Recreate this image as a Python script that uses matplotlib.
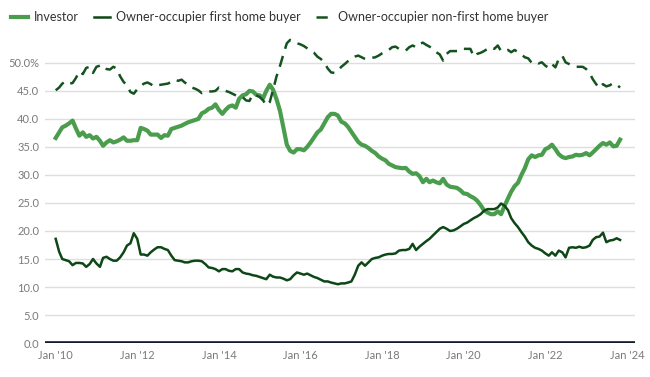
"""Share of new housing loans by buyer type, Jan 2010 - Nov 2023."""

import matplotlib
matplotlib.use("Agg")
import matplotlib.pyplot as plt
import matplotlib.dates as mdates
import pandas as pd

# monthly shares (%), Jan 2010 onwards
investor = [
    36.6, 37.6, 38.5, 38.8, 39.2, 39.7, 38.3, 37.0, 37.6, 36.8, 37.1, 36.5,
    36.8, 36.1, 35.2, 35.8, 36.2, 35.8, 36.0, 36.3, 36.7, 36.1, 36.1, 36.2,
    36.2, 38.4, 38.2, 37.9, 37.2, 37.2, 37.2, 36.6, 37.1, 37.0, 38.2, 38.4,
    38.6, 38.8, 39.1, 39.4, 39.6, 39.8, 40.0, 41.0, 41.3, 41.8, 42.0, 42.6,
    41.6, 40.9, 41.6, 42.2, 42.4, 42.0, 43.6, 44.2, 44.4, 45.0, 44.9, 44.3,
    44.2, 43.7, 45.0, 46.1, 45.2, 43.5, 41.5, 38.5, 35.4, 34.3, 34.0, 34.6,
    34.6, 34.4, 35.0, 35.8, 36.7, 37.6, 38.1, 39.2, 40.3, 40.9, 40.9, 40.6,
    39.5, 39.2, 38.6, 37.7, 36.8, 35.9, 35.4, 35.2, 34.8, 34.3, 33.9, 33.3,
    32.9, 32.6, 32.0, 31.7, 31.4, 31.3, 31.2, 31.25, 30.6, 30.2, 30.3, 29.8,
    28.7, 29.3, 28.7, 29.0, 28.7, 28.5, 29.3, 28.3, 27.9, 27.8, 27.7, 27.3,
    26.7, 26.6, 26.2, 25.9, 25.4, 24.6, 23.7, 23.3, 23.0, 23.0, 23.5, 23.0,
    24.5, 25.8, 27.0, 28.0, 28.6, 30.0, 31.2, 32.8, 33.5, 33.2, 33.5, 33.6,
    34.6, 34.9, 35.4, 34.6, 33.7, 33.2, 33.0, 33.2, 33.3, 33.6, 33.5, 33.6,
    33.9, 33.5, 34.0, 34.6, 35.2, 35.7, 35.4, 35.8, 35.1, 35.2, 36.3,
]

first_home = [
    18.6, 16.3, 15.0, 14.8, 14.6, 13.9, 14.3, 14.3, 14.2, 13.6, 14.1, 15.0,
    14.2, 13.6, 15.2, 15.4, 15.0, 14.7, 14.7, 15.3, 16.2, 17.4, 17.8, 19.6,
    18.6, 15.8, 15.8, 15.6, 16.2, 16.7, 17.1, 17.1, 16.8, 16.6, 15.6, 14.8,
    14.7, 14.6, 14.4, 14.4, 14.6, 14.7, 14.7, 14.6, 14.1, 13.5, 13.4, 13.2,
    12.8, 13.2, 13.2, 12.9, 12.8, 13.2, 13.2, 12.6, 12.4, 12.3, 12.1, 12.0,
    11.8, 11.6, 11.4, 12.2, 11.85, 11.7, 11.7, 11.5, 11.2, 11.4, 12.1, 12.6,
    12.4, 12.2, 12.4, 12.1, 11.8, 11.6, 11.3, 11.0, 11.0, 10.8, 10.65, 10.5,
    10.65, 10.65, 10.8, 11.0, 12.2, 13.8, 14.4, 13.8, 14.4, 15.0, 15.2, 15.3,
    15.6, 15.8, 15.9, 15.9, 16.0, 16.5, 16.6, 16.6, 16.8, 17.7, 16.6, 17.2,
    17.7, 18.2, 18.6, 19.2, 19.8, 20.4, 20.7, 20.4, 20.0, 20.1, 20.4, 20.8,
    21.25, 21.5, 21.9, 22.3, 22.6, 23.0, 23.6, 23.9, 23.9, 23.9, 24.2, 24.9,
    24.5, 23.7, 22.3, 21.4, 20.7, 19.8, 19.0, 18.0, 17.4, 17.0, 16.8, 16.5,
    16.0, 15.6, 16.2, 15.6, 16.5, 16.2, 15.3, 17.0, 17.1, 17.0, 17.2, 17.0,
    17.1, 17.4, 18.4, 18.9, 19.0, 19.7, 18.0, 18.3, 18.4, 18.7, 18.4,
]

non_first_home = [
    45.1, 45.6, 46.3, 46.7, 46.3, 46.4, 47.3, 48.5, 48.0, 49.1, 49.3, 48.2,
    49.3, 49.5, 49.6, 48.9, 48.8, 49.3, 49.0, 47.6, 46.6, 46.0, 44.8, 44.5,
    45.3, 45.9, 46.3, 46.5, 46.2, 45.8, 46.0, 46.1, 46.2, 46.3, 46.6, 47.0,
    46.8, 47.0, 46.5, 46.1, 45.6, 45.4, 45.1, 44.6, 44.9, 44.9, 44.9, 45.0,
    45.6, 45.4, 45.0, 44.8, 44.5, 44.2, 43.9, 43.9, 43.3, 43.2, 44.4, 44.2,
    43.9, 43.3, 42.4, 43.0, 45.2, 47.6, 49.4, 51.5, 53.5, 54.1, 53.9, 53.5,
    53.3, 53.0, 52.6, 52.1, 51.8, 51.1, 50.7, 50.1, 49.0, 48.3, 48.2, 48.6,
    49.3, 49.8, 50.3, 50.7, 51.1, 51.3, 51.0, 50.7, 50.7, 50.9, 51.0, 51.3,
    51.7, 52.0, 52.3, 52.8, 52.9, 52.5, 52.2, 52.2, 52.8, 53.1, 52.8, 53.4,
    53.6, 53.2, 52.9, 52.5, 51.9, 51.5, 50.4, 51.6, 52.1, 52.1, 52.1, 52.1,
    52.5, 52.5, 52.5, 51.1, 51.6, 51.8, 52.1, 52.5, 52.8, 52.5, 53.1, 52.1,
    52.1, 52.3, 51.9, 52.3, 51.9, 51.5, 51.0, 50.8, 50.0, 50.2, 49.9, 50.1,
    49.5, 49.1, 49.8, 49.2, 50.7, 51.3, 50.1, 49.8, 49.5, 49.3, 49.3, 49.3,
    48.9, 48.2, 47.1, 46.2, 45.5, 46.2, 45.8, 46.0, 46.4, 46.1, 45.6,
]

months = pd.date_range("2010-01-01", periods=len(investor), freq="MS")
tick_years = [2010, 2012, 2014, 2016, 2018, 2020, 2022, 2024]
y_ticks = [0, 5, 10, 15, 20, 25, 30, 35, 40, 45, 50]

plt.rcParams["font.family"] = ["Lato", "DejaVu Sans"]

fig = plt.figure(figsize=(6.5, 3.77), dpi=100)
ax = fig.add_axes([0.069, 0.090, 0.908, 0.825])

ax.plot(months, investor, color="#4a9d4c", lw=3.0, label="Investor")
ax.plot(months, first_home, color="#0d4716", lw=1.8,
        label="Owner-occupier first home buyer")
ax.plot(months, non_first_home, color="#14531f", lw=1.8, dashes=(4.5, 3),
        label="Owner-occupier non-first home buyer")

ax.axhline(0, color="#0e1a2c", lw=2.6, zorder=3)

ax.set_ylim(0, 55.5)
ax.set_xlim(pd.Timestamp("2009-09-26"), pd.Timestamp("2024-03-14"))

ax.set_yticks(y_ticks)
ax.set_yticklabels([f"{v:.1f}%" if v == 50 else f"{v:.1f}" for v in y_ticks])
ax.set_xticks([pd.Timestamp(f"{y}-01-01") for y in tick_years])
ax.set_xticklabels([f"Jan '{y % 100:02d}" for y in tick_years])

ax.tick_params(axis="both", length=0, labelsize=8, labelcolor="#7a7a7a")
ax.tick_params(axis="y", pad=4)
ax.tick_params(axis="x", pad=5)
ax.grid(axis="y", color="#dedede", lw=1)
ax.set_axisbelow(True)
for side in ["top", "right", "left", "bottom"]:
    ax.spines[side].set_visible(False)

fig.legend(loc="upper left", bbox_to_anchor=(0.0, 1.0), ncol=3, frameon=False,
           fontsize=9, handlelength=1.3, handletextpad=0.5, columnspacing=1.2,
           labelcolor="#333333")

fig.savefig("out.png", dpi=100)
